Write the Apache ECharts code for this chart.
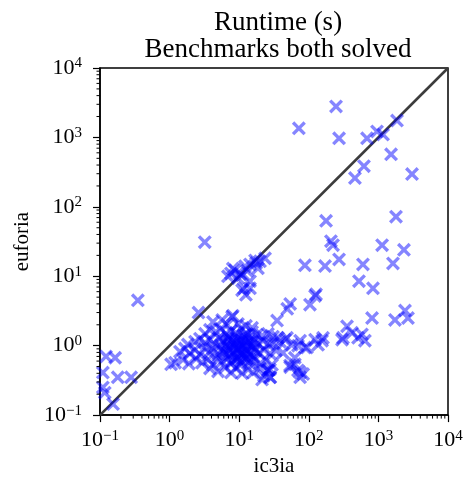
<!DOCTYPE html>
<html>
<head>
<meta charset="utf-8">
<script src="https://cdn.jsdelivr.net/npm/echarts@6/dist/echarts.min.js"></script>
<style>html,body{margin:0;padding:0;background:#fff;}#c{width:466px;height:482px;}</style>
</head>
<body>
<div id="c"></div>
<script>
// ---- data (ic3ia time, euforia time) ----
const highPoints = [[246,2800],[72,1350],[272,970],[686,970],[955,1220],[1165,1100],[1850,1750],[1520,570],[620,385],[460,260],[3040,296]];
const midPoints = [[3.2,31],[177,63],[1790,72],[208,32],[223,28],[1130,28],[2330,24],[88,14.4],[171,14],[272,17.5],[600,14.8],[1620,15.3],[526,8.5],[836,6.7],[127,5.5],[0.35,4.5],[123,5.2],[54,4.0],[49,3.4],[104,3.9],[2.6,3.0],[2410,3.2]];
const diagPoints = [[8.7,12.2],[12.1,13.9],[16.9,16.9],[19.9,16.4],[23.5,18.1],[18.6,13],[10.3,10.7],[14.3,14.8],[9.6,9.4],[6.9,10],[11,6.3],[14.3,6.7],[12.5,5.4],[17.5,15.5],[13,12],[11,10.3],[14.3,8.5],[11.7,6.7],[7.6,11],[8.1,12.9]];
const lowRightPoints = [[35,2.3],[354,1.9],[810,2.5],[1730,2.35],[2660,2.5],[580,1.45],[510,1.3],[640,1.18],[300,1.22],[155,1.18],[136,1.03],[88,0.94],[57,1.03],[63,0.54],[70,0.44],[83,0.39],[54,0.49],[26,0.44],[28,0.35],[418,1.53],[75,1.18],[94,0.94],[48.6,1.30],[63,0.67],[75,0.35],[70,1.0],[42.5,0.79],[53.7,0.52],[75,0.41],[27.7,0.455],[123,1.22],[160,1.3],[310,1.3]];
const leftPoints = [[0.122,0.70],[0.165,0.67],[0.11,0.41],[0.18,0.35],[0.28,0.35],[0.11,0.25],[0.117,0.21],[0.154,0.144]];
const clusterPoints = [
 [8.1,2.7],[4.2,2.2],[5.7,2.35],[6.7,2.0],[7.9,2.6],[9.6,2.06],[12.5,1.93],[15.3,1.81],
 [3.23,1.48],[3.8,1.69],[4.64,1.58],[5.48,1.75],[6.46,1.48],[7.63,1.63],[9.0,1.53],[10.65,1.75],[12.9,1.48],[15.3,1.58],[18.0,1.44],[21.3,1.39],[25.9,1.48],[30.6,1.35],[36.1,1.30],
 [1.83,1.04],[2.32,1.14],[2.73,1.26],[3.23,1.1],[3.8,1.22],[4.34,1.07],[5.12,1.30],[5.85,1.14],[6.9,1.26],[7.88,1.07],[9.3,1.22],[10.65,1.1],[12.1,1.30],[13.8,1.14],[16.3,1.22],[18.7,1.07],[22.0,1.18],[25.9,1.04],[30.6,1.1],[38.5,1.14],[45.5,1.22],
 [1.41,0.82],[1.66,0.91],[1.96,0.77],[2.32,0.88],[2.73,0.745],[3.23,0.94],[3.67,0.79],[4.2,0.91],[4.96,0.745],[5.66,0.88],[6.46,0.77],[7.38,0.94],[8.42,0.79],[9.6,0.91],[11.0,0.77],[12.5,0.88],[14.3,0.745],[16.3,0.94],[19.3,0.79],[22.7,0.88],[27.7,0.77],[33.8,0.85],
 [1.56,0.63],[1.89,0.55],[2.4,0.65],[2.92,0.57],[3.56,0.63],[4.2,0.53],[4.8,0.67],[5.66,0.59],[6.67,0.65],[7.63,0.55],[9.0,0.63],[10.3,0.53],[11.75,0.65],[13.8,0.57],[16.9,0.63],[19.9,0.55],[24.3,0.61],[29.6,0.53],
 [3.8,0.47],[4.96,0.425],[6.25,0.485],[7.63,0.41],[9.0,0.47],[11.0,0.40],[13.4,0.455],[15.8,0.41],[19.9,0.47],[22.7,0.37],[25.9,0.44],[27.7,0.35],[21.3,0.325],
 [8.71,1.1],[10.3,0.94],[12.1,0.77],[7.38,0.72],[13.4,1.0],[6.46,1.0],[9.6,0.67],[14.3,0.63],[1.05,0.54],[1.2,0.57]
];
const clusterCore = [[6.8,1.15],[7.2,0.85],[7.9,1.2],[8.3,0.95],[8.8,0.7],[9.2,1.3],[9.8,1.05],[10.1,0.8],[10.8,1.2],[11.3,0.98],[11.8,0.72],[12.4,1.12],[13.1,0.83],[13.6,1.25],[14.8,0.98],[15.6,1.1],[8.0,0.6],[10.6,0.6],[7.0,1.35],[11.5,1.4],[9.4,0.86],[12.8,0.66],[6.0,0.82],[5.4,1.02],[17.2,0.85],[16.0,0.7]];
const diagonal = [[0.1,0.1],[10000,10000]];
const tickLabels = {'-1':'\u22121','0':'0','1':'1','2':'2','3':'3','4':'4'};
const minorTicks = [0.2,0.3,0.4,0.5,0.6,0.7,0.8,0.9,2,3,4,5,6,7,8,9,20,30,40,50,60,70,80,90,200,300,400,500,600,700,800,900,2000,3000,4000,5000,6000,7000,8000,9000];

const FONT = 'Liberation Serif';
const allPoints = [].concat(leftPoints, clusterPoints, clusterCore, diagPoints, midPoints, lowRightPoints, highPoints);
const xSym = 'path://M0,17 L17,0 L50,33 L83,0 L100,17 L67,50 L100,83 L83,100 L50,67 L17,100 L0,83 L33,50 Z';

function fmt(v){ const e = Math.round(Math.log10(v)); return '{b|10}{e|' + tickLabels[e] + '}'; }
const richLab = {
  b: {fontFamily: FONT, fontSize: 22, lineHeight: 24, color: '#000'},
  e: {fontFamily: FONT, fontSize: 15, lineHeight: 14, verticalAlign: 'top', color: '#000'}
};
function axisCommon(name){
  return {
    type: 'log', logBase: 10, min: 0.1, max: 10000, splitNumber: 5,
    name: name, nameLocation: 'middle',
    nameTextStyle: {fontFamily: FONT, fontSize: 21, color: '#000'},
    axisLine: {show: true, lineStyle: {color: '#000', width: 1.5}},
    axisTick: {show: true, inside: false, length: 7, lineStyle: {color: '#000', width: 1.2}},
    splitLine: {show: false},
    axisLabel: {formatter: fmt, rich: richLab, color: '#000'}
  };
}
const xA = axisCommon('ic3ia'); xA.nameGap = 37; xA.axisLabel.margin = 13;
const yA = axisCommon('euforia'); yA.nameGap = 60; yA.axisLabel.margin = 18;

function minorRender(isX){
  return function(params, api){
    const v = api.value(0);
    const p = isX ? api.coord([v, 0.1]) : api.coord([0.1, v]);
    const shape = isX ? {x1: p[0], y1: p[1], x2: p[0], y2: p[1] + 3.5} : {x1: p[0], y1: p[1], x2: p[0] - 3.5, y2: p[1]};
    return {type: 'line', shape: shape, style: {stroke: '#000', lineWidth: 1}};
  };
}

const chart = echarts.init(document.getElementById('c'), null, {renderer: 'canvas'});
chart.setOption({
  animation: false,
  backgroundColor: '#fff',
  title: {
    text: 'Runtime (s)\nBenchmarks both solved',
    left: 273, top: 4, textAlign: 'center',
    textStyle: {fontFamily: FONT, fontSize: 27, fontWeight: 'normal', color: '#000', lineHeight: 27}
  },
  grid: {left: 100, right: 18, top: 68, bottom: 64, show: true, borderColor: '#000', borderWidth: 1.5, backgroundColor: 'transparent'},
  xAxis: xA,
  yAxis: yA,
  series: [
    {type: 'line', data: diagonal, symbol: 'none', z: 1, lineStyle: {color: '#3c3c3c', width: 2.6}, silent: true},
    {type: 'scatter', data: allPoints, symbol: xSym, symbolSize: 14, z: 3,
     itemStyle: {color: 'rgba(0,0,255,0.6)'}},
    {type: 'custom', data: minorTicks.map(v => [v]), renderItem: minorRender(true), clip: false, silent: true, z: 4},
    {type: 'custom', data: minorTicks.map(v => [v]), renderItem: minorRender(false), clip: false, silent: true, z: 4}
  ]
});
</script>
</body>
</html>
